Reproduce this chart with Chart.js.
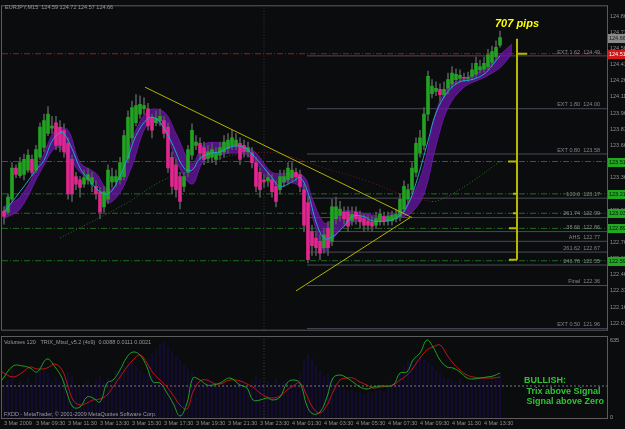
<!DOCTYPE html>
<html>
<head>
<meta charset="utf-8">
<script src="https://cdn.jsdelivr.net/npm/chart.js@4/dist/chart.umd.min.js"></script>
<style>
  html, body { margin: 0; padding: 0; background: #0b0c0e; }
  #wrap { position: relative; width: 625px; height: 429px; overflow: hidden; }
  canvas { position: absolute; left: 0; }
  #main { top: 0; }
  #sub { top: 334px; }
</style>
</head>
<body>
<div id="wrap">
  <canvas id="main" width="625" height="336"></canvas>
  <canvas id="sub" width="625" height="95"></canvas>
</div>
<script>
(function () {
    "use strict";

    // ---- EURJPY M15 bars, 3 Mar 2009 07:30 onwards ----
    const barOpen = [123.05,123.04,123.16,123.45,123.38,123.39,123.43,123.53,123.43,123.55,
        123.64,123.77,123.82,123.87,123.83,123.80,123.68,123.53,123.37,123.34,
        123.30,123.34,123.30,123.28,123.23,123.09,123.16,123.32,123.32,123.34,
        123.37,123.54,123.73,123.87,123.95,124.00,124.00,123.92,123.87,123.89,
        123.89,123.83,123.55,123.48,123.37,123.28,123.41,123.57,123.66,123.68,
        123.64,123.54,123.55,123.53,123.57,123.60,123.63,123.66,123.66,123.68,
        123.66,123.60,123.59,123.50,123.41,123.34,123.33,123.34,123.28,123.25,
        123.32,123.34,123.36,123.41,123.39,123.25,123.13,122.86,122.80,122.77,
        122.71,122.89,122.77,122.98,123.01,123.04,123.04,122.96,123.04,123.00,
        122.98,122.96,122.95,122.92,122.96,123.00,122.96,122.96,122.98,123.00,
        123.07,123.16,123.25,123.41,123.59,123.66,123.95,124.14,124.16,124.18,
        124.13,124.19,124.23,124.27,124.28,124.29,124.28,124.30,124.32,124.36,
        124.37,124.39,124.43,124.48,124.59];
    const barHigh = [123.09,123.21,123.50,123.48,123.55,123.58,123.62,123.57,123.66,123.87,
        123.95,124.02,123.93,123.93,123.89,123.86,123.73,123.57,123.41,123.37,
        123.43,123.45,123.41,123.33,123.27,123.28,123.48,123.45,123.43,123.55,
        123.80,123.98,124.07,124.13,124.12,124.10,124.05,123.95,123.98,124.00,
        123.93,123.87,123.60,123.53,123.41,123.41,123.66,123.86,123.75,123.73,
        123.69,123.66,123.68,123.64,123.69,123.75,123.77,123.80,123.77,123.73,
        123.71,123.69,123.64,123.55,123.45,123.39,123.41,123.39,123.33,123.43,
        123.43,123.50,123.50,123.45,123.43,123.30,123.18,122.92,122.86,122.83,
        122.89,122.95,123.16,123.18,123.14,123.09,123.09,123.09,123.09,123.05,
        123.02,123.01,123.00,123.04,123.07,123.04,123.04,123.05,123.07,123.21,
        123.33,123.30,123.50,123.73,123.80,124.01,124.35,124.27,124.25,124.23,
        124.25,124.33,124.39,124.37,124.36,124.33,124.34,124.42,124.48,124.45,
        124.48,124.55,124.58,124.63,124.72];
    const barLow = [122.93,123.02,123.14,123.36,123.36,123.34,123.41,123.38,123.41,123.53,
        123.60,123.75,123.77,123.62,123.60,123.55,123.16,123.14,123.25,123.18,
        123.27,123.30,123.23,123.16,122.98,123.04,123.12,123.27,123.28,123.30,
        123.34,123.50,123.69,123.84,123.91,123.95,123.80,123.73,123.84,123.84,
        123.73,123.41,123.21,123.18,123.07,123.23,123.37,123.53,123.62,123.53,
        123.48,123.50,123.50,123.48,123.53,123.55,123.59,123.62,123.62,123.48,
        123.55,123.55,123.45,123.23,123.18,123.27,123.28,123.18,123.09,123.21,
        123.28,123.30,123.33,123.33,123.23,122.86,122.57,122.64,122.64,122.60,
        122.66,122.64,122.73,122.93,122.96,122.93,122.86,122.92,122.93,122.89,
        122.86,122.87,122.86,122.89,122.92,122.92,122.92,122.92,122.95,122.96,
        123.04,123.12,123.21,123.37,123.55,123.62,123.89,124.10,124.12,124.07,
        124.10,124.14,124.19,124.23,124.25,124.25,124.25,124.27,124.29,124.33,
        124.34,124.36,124.39,124.45,124.57];
    const barClose = [123.00,123.18,123.45,123.39,123.50,123.53,123.57,123.41,123.62,123.83,
        123.89,123.95,123.84,123.66,123.66,123.60,123.21,123.21,123.30,123.27,
        123.36,123.39,123.36,123.21,123.04,123.23,123.43,123.37,123.37,123.50,
        123.75,123.92,124.01,124.03,124.04,124.03,123.84,123.80,123.91,123.93,
        123.77,123.45,123.28,123.25,123.14,123.37,123.62,123.80,123.69,123.59,
        123.53,123.60,123.62,123.59,123.64,123.69,123.71,123.73,123.71,123.53,
        123.60,123.64,123.50,123.28,123.25,123.32,123.36,123.23,123.14,123.37,
        123.37,123.45,123.43,123.37,123.28,122.92,122.60,122.73,122.71,122.66,
        122.83,122.71,123.09,123.09,123.07,122.98,122.91,123.02,122.98,122.95,
        122.92,122.92,122.91,122.98,123.02,122.96,123.00,123.01,123.02,123.16,
        123.28,123.25,123.45,123.68,123.73,123.95,124.30,124.21,124.19,124.13,
        124.18,124.27,124.33,124.32,124.31,124.28,124.29,124.36,124.42,124.39,
        124.42,124.50,124.53,124.57,124.66];

    // smoothed average (cyan)
    const maIdx = [0,4,8,10,12,14,15,17,19,21,24,26,28,31,33,36,38,40,42,45,47,49,52,54,57,60,63,67,69,72,74,76,78,80,82,85,87,90,92,96,99,101,103,106,108,111,114,117,120,122,124];
    const maValues = [123.04,123.23,123.43,123.52,123.70,123.78,123.77,123.63,123.45,123.35,123.23,123.21,123.30,123.55,123.75,123.91,123.91,123.82,123.68,123.45,123.43,123.54,123.59,123.60,123.65,123.64,123.54,123.36,123.28,123.32,123.36,123.22,122.95,122.80,122.81,122.91,123.00,123.00,122.96,122.96,123.01,123.11,123.31,123.70,123.96,124.16,124.25,124.27,124.32,124.40,124.49];

    // purple band
    const bandIdx = [0,4,9,13,16,19,23,26,29,32,36,40,43,47,50,55,60,63,67,71,75,77,80,82,85,90,95,99,102,105,108,111,115,120,124,127];
    const bandUpper = [123.09,123.18,123.50,123.81,123.80,123.50,123.40,123.25,123.34,123.71,123.98,123.97,123.77,123.49,123.67,123.68,123.65,123.59,123.41,123.40,123.37,123.17,122.94,122.97,123.05,123.03,123.00,123.06,123.18,123.47,123.97,124.20,124.28,124.37,124.50,124.60];
    const bandLower = [122.98,123.07,123.41,123.64,123.56,123.41,123.31,123.13,123.22,123.47,123.86,123.83,123.52,123.30,123.52,123.58,123.58,123.50,123.30,123.32,123.25,123.01,122.67,122.78,122.91,122.97,122.96,122.99,123.04,123.21,123.66,124.01,124.20,124.29,124.38,124.51];

    // slow average (dotted, green rising / red falling)
    const slowIdx = [14,30,40,54,62,69,80,90,100,107,110,116,124];
    const slowValues = [122.80,123.11,123.34,123.54,123.59,123.58,123.45,123.34,123.20,123.14,123.17,123.30,123.51];

    // trend lines
    const trendUpperIdx = [35.25, 102];
    const trendUpperVal = [124.20, 122.99];
    const trendLowerIdx = [73, 101.5];
    const trendLowerVal = [122.31, 122.99];

    // levels
    const redLevel = 124.51;
    const greenLevels = [123.51, 123.21, 123.03, 122.89, 122.59];
    const fibStartIdx = 75.75;
    const fibLevels = [124.49, 124.00, 123.58, 123.17, 122.99, 122.86, 122.77, 122.67, 122.55, 122.36, 121.96];
    const fibNames = ['EXT 1.62', 'EXT 1.80', 'EXT 0.80', '100.0', '261.74', '38.66', 'AHS', '261.62', '246.76', 'Final', 'EXT 0.50'];
    const lastPrice = 124.66;

    // 707 pips ruler
    const rulerIdx = 128.25;
    const rulerTop = 124.65;
    const rulerBottom = 122.60;
    const rulerMarks = [124.51, 123.51, 123.21, 123.03, 122.89, 122.60];
    const rulerMarkFrom = [130.75, 126, 127.25, 127.25, 126.25, 126.25];
    const pipsLabel = '707 pips';

    const priceTicks = [124.86,124.71,124.56,124.41,124.26,124.11,123.96,123.81,123.66,123.51,
        123.36,123.21,123.06,122.91,122.76,122.61,122.46,122.31,122.16,122.01];
    const priceMin = 121.95, priceMax = 124.95;
    const idxMin = -0.5, idxMax = 150.75;
    const daySplitIdx = 65;
    const titleText = 'EURJPY,M15  124.59 124.72 124.57 124.66';

    // ---- lower panel: TRIX + volumes ----
    const timeLabels = ['3 Mar 2009','3 Mar 09:30','3 Mar 11:30','3 Mar 13:30','3 Mar 15:30','3 Mar 17:30','3 Mar 19:30','3 Mar 21:30',
        '3 Mar 23:30','4 Mar 01:30','4 Mar 03:30','4 Mar 05:30','4 Mar 07:30','4 Mar 09:30','4 Mar 11:30','4 Mar 13:30'];
    const trixIdx = [-0.5,2.25,4.75,6.5,8.25,10.75,12.75,14.5,15.75,17.25,
        19,20.75,22.25,24,25.75,27.25,29,30.75,32.25,34,
        35.75,37.25,39,40.75,42.25,44,45.75,47.25,49,50.75,
        52.25,54,56.5,59,60.75,62.25,64,65.75,67.25,69,
        70.75,72.25,74,75.75,77.25,79,80.75,82.25,84,85.75,
        87.25,89,90.75,92.25,94,97.25,99,100.75,102.25,104,
        105.75,107.25,109,110.75,112.25,114,115.75,117.25,119,120.75,
        122.25,124];
    const trixMain = [0.003,0.010,0.010,0.009,0.007,0.0135,0.0095,0.004,-0.0035,-0.0105,
        -0.0105,-0.0055,-0.006,-0.008,0.0015,0.003,0.008,0.0145,0.017,0.0155,
        0.0095,0.002,0.0015,-0.0035,-0.0085,-0.015,-0.0085,0.004,0.003,0.0005,
        0.0005,0.0015,0.004,0.0005,-0.001,-0.007,-0.007,-0.006,-0.007,-0.0055,
        0.0015,0.003,0.0015,-0.010,-0.014,-0.013,-0.0055,0.004,0.0055,0.004,
        0.002,-0.0005,-0.0015,-0.0005,0,0.0005,0.0065,0.007,0.013,0.0165,
        0.023,0.0195,0.013,0.0095,0.009,0.007,0.004,0.0035,0.004,0.0045,
        0.005,0.0065];
    const trixSignal = [0.007,0.0045,0.007,0.0095,0.0085,0.009,0.011,0.008,0.0015,-0.007,
        -0.0095,-0.0085,-0.007,-0.0065,-0.0045,-0.0005,0.0045,0.0095,0.013,0.0155,
        0.0115,0.0065,0.003,-0.0005,-0.0045,-0.0095,-0.0115,-0.003,0.0025,0.003,
        0.0015,0.001,0.003,0.0025,0.001,-0.0005,-0.0035,-0.0055,-0.006,-0.005,
        -0.002,0,0.0015,-0.005,-0.011,-0.0135,-0.0095,-0.003,0.003,0.004,
        0.004,0.002,0.0005,-0.001,-0.0005,0.0005,0.003,0.0055,0.009,0.014,
        0.018,0.0195,0.0205,0.0155,0.0115,0.008,0.0055,0.0045,0.004,0.004,
        0.004,0.0045];
    const volumes = [260,310,380,240,300,280,330,260,350,420,
        390,360,300,330,290,310,370,340,260,250,
        280,300,260,310,340,290,330,300,380,410,
        430,460,440,420,380,360,480,520,560,600,
        620,580,540,500,470,430,400,380,330,300,
        280,310,290,270,250,280,260,240,300,320,
        280,260,300,340,310,280,300,260,320,280,
        300,270,290,310,360,460,520,480,420,380,
        340,360,330,280,260,240,220,230,210,200,
        190,210,200,220,230,210,250,280,300,360,
        420,460,480,520,500,470,450,420,380,360,
        330,320,300,290,310,280,300,290,320,310,
        330,300,340,320,350];
    const trixMin = -0.016, trixMax = 0.0245, volMax = 660;
    const subTitle = 'Volumes 120   TRIX_Mtsd_v5.2 (4x9)  0.0088 0.0111 0.0021';
    const footer = 'FXDD - MetaTrader, \u00a9 2001-2009 MetaQuotes Software Corp.';
    const verdict = ['BULLISH:', ' Trix above Signal', ' Signal above Zero'];

    Chart.defaults.font.family = '"Liberation Sans", Arial, sans-serif';
    Chart.defaults.animation = false;

    function pts(xs, ys) { return xs.map((x, i) => ({x: x, y: ys[i]})); }

    function lineSet(data, color, extra) {
        return Object.assign({
            type: 'line', data: data, borderColor: color, borderWidth: 1,
            pointRadius: 0, fill: false, tension: 0
        }, extra || {});
    }

    function frame(ctx, a) {
        ctx.strokeStyle = '#5c5c5c';
        ctx.lineWidth = 1;
        ctx.strokeRect(a.left - 0.5, a.top - 0.5, a.right - a.left + 1, a.bottom - a.top + 1);
    }

    function tag(ctx, yPix, text, bg, fg) {
        ctx.fillStyle = bg;
        ctx.fillRect(608, Math.round(yPix) - 4, 17, 9);
        ctx.fillStyle = fg;
        ctx.textAlign = 'left';
        ctx.textBaseline = 'middle';
        ctx.fillText(text, 609, Math.round(yPix) + 0.5);
    }

    const mainOverlay = {
        id: 'mainOverlay',
        afterDraw(chart) {
            const ctx = chart.ctx, a = chart.chartArea, x = chart.scales.x, y = chart.scales.y;
            ctx.save();
            frame(ctx, a);

            ctx.font = '5.5px "Liberation Sans"';
            ctx.fillStyle = '#9a9a9a';
            ctx.textAlign = 'left';
            ctx.textBaseline = 'middle';
            ctx.fillText(titleText, 5, 7);

            // fibo labels
            ctx.fillStyle = '#858585';
            ctx.textAlign = 'right';
            ctx.textBaseline = 'bottom';
            fibLevels.forEach((v, k) => {
                ctx.fillText(fibNames[k] + '  ' + v.toFixed(2), x.getPixelForValue(149), y.getPixelForValue(v) - 1);
            });

            // price tags
            ctx.font = '5.5px "Liberation Sans"';
            tag(ctx, y.getPixelForValue(lastPrice), lastPrice.toFixed(2), '#8a8a8a', '#1a1a1a');
            tag(ctx, y.getPixelForValue(redLevel), redLevel.toFixed(2), '#d01818', '#ffffff');
            greenLevels.forEach(v => tag(ctx, y.getPixelForValue(v), v.toFixed(2), '#20a820', '#0b0c0e'));

            ctx.font = 'italic bold 11px "Liberation Sans"';
            ctx.fillStyle = '#ffff00';
            ctx.textAlign = 'center';
            ctx.textBaseline = 'middle';
            ctx.fillText(pipsLabel, x.getPixelForValue(rulerIdx), 24);
            ctx.restore();
        }
    };

    const subOverlay = {
        id: 'subOverlay',
        afterDraw(chart) {
            const ctx = chart.ctx, a = chart.chartArea;
            ctx.save();
            frame(ctx, a);
            ctx.font = '5.5px "Liberation Sans"';
            ctx.fillStyle = '#9a9a9a';
            ctx.textAlign = 'left';
            ctx.textBaseline = 'middle';
            ctx.fillText(subTitle, 4, a.top + 5);
            ctx.fillText(footer, 4, a.bottom - 4);
            ctx.fillText('635', 610, a.top + 3);
            ctx.fillText('0', 610, a.bottom - 1);

            ctx.font = 'bold 9px "Liberation Sans"';
            ctx.fillStyle = '#2fc42f';
            verdict.forEach((t, k) => ctx.fillText(t, 524, a.top + 44 + k * 10.5));
            ctx.restore();
        }
    };

    const bodyColors = barOpen.map((o, i) => barClose[i] >= o ? '#23a123' : '#e0278f');

    const mainDatasets = [
        // purple band (upper then lower filled to it)
        lineSet(pts(bandIdx, bandUpper), 'rgba(110, 24, 170, 0.9)', {order: 12, tension: 0.35}),
        lineSet(pts(bandIdx, bandLower), 'rgba(110, 24, 170, 0.9)', {order: 12, tension: 0.35, fill: '-1', backgroundColor: 'rgba(108, 22, 172, 0.72)'}),
        // fibo levels
        ...fibLevels.map(v => lineSet(pts([fibStartIdx, idxMax], [v, v]), '#4a4a58', {order: 22})),
        // dash-dot levels
        ...greenLevels.map(v => lineSet(pts([idxMin, idxMax], [v, v]), '#1f6e1f', {order: 21, borderDash: [6, 2, 1, 2]})),
        lineSet(pts([idxMin, idxMax], [redLevel, redLevel]), '#a81414', {order: 20, borderDash: [6, 2, 1, 2]}),
        // day separator
        lineSet(pts([daySplitIdx, daySplitIdx], [priceMin, priceMax]), '#3c3c3c', {order: 23, borderDash: [1, 2]}),
        // slow average
        lineSet(pts(slowIdx, slowValues), '#1d7a1d', {order: 15, tension: 0.4, borderDash: [1, 2],
            segment: {borderColor: c => c.p1.parsed.y >= c.p0.parsed.y ? '#1f7a1f' : '#7a1414'}}),
        // candles
        {type: 'bar', data: barLow.map((l, i) => ({x: i, y: [l, barHigh[i]]})), backgroundColor: '#555555',
            barThickness: 1, grouped: false, order: 8},
        {type: 'bar', data: barOpen.map((o, i) => ({x: i, y: [o, barClose[i]]})), backgroundColor: bodyColors,
            barThickness: 3, minBarLength: 1, grouped: false, order: 7},
        // cyan average
        lineSet(pts(maIdx, maValues), '#1fa8c8', {order: 3, tension: 0.4}),
        // trend lines
        lineSet(pts(trendUpperIdx, trendUpperVal), '#b4b400', {order: 2}),
        lineSet(pts(trendLowerIdx, trendLowerVal), '#b4b400', {order: 2}),
        // ruler
        lineSet(pts([rulerIdx, rulerIdx], [rulerTop, rulerBottom]), '#b8b800', {order: 1, borderWidth: 2}),
        ...rulerMarks.map((v, k) => lineSet(pts([rulerMarkFrom[k], rulerIdx], [v, v]), '#b8b800', {order: 1, borderWidth: 2}))
    ];

    new Chart(document.getElementById('main'), {
        type: 'bar',
        data: {datasets: mainDatasets},
        options: {
            responsive: false,
            devicePixelRatio: 1,
            events: [],
            layout: {padding: {left: 2, top: 3, right: 0, bottom: 3}},
            plugins: {legend: {display: false}, tooltip: {enabled: false}},
            scales: {
                x: {type: 'linear', min: idxMin, max: idxMax, offset: false, display: false},
                y: {
                    type: 'linear', position: 'right', min: priceMin, max: priceMax,
                    afterBuildTicks: s => { s.ticks = priceTicks.map(v => ({value: v})); },
                    afterFit: s => { s.width = 18; },
                    grid: {display: false, drawTicks: false},
                    border: {display: false},
                    ticks: {autoSkip: false, padding: 3, color: '#8e8e8e', font: {size: 5.5},
                        callback: v => Number(v).toFixed(2)}
                }
            }
        },
        plugins: [mainOverlay]
    });

    new Chart(document.getElementById('sub'), {
        type: 'bar',
        data: {
            datasets: [
                {type: 'bar', yAxisID: 'yv', data: volumes.map((v, i) => ({x: i, y: v})), backgroundColor: '#170b3a',
                    barThickness: 1, grouped: false, order: 10},
                lineSet(pts([idxMin, idxMax], [0, 0]), '#7a7a7a', {order: 9, borderDash: [2, 2]}),
                lineSet(pts([daySplitIdx, daySplitIdx], [trixMin, trixMax]), '#3c3c3c', {order: 9, borderDash: [1, 2]}),
                lineSet(pts(trixIdx, trixSignal), '#c41616', {order: 2, tension: 0.4}),
                lineSet(pts(trixIdx, trixMain), '#1fa21f', {order: 1, tension: 0.4})
            ]
        },
        options: {
            responsive: false,
            devicePixelRatio: 1,
            events: [],
            layout: {padding: {left: 2, top: 3, right: 0, bottom: 0}},
            plugins: {legend: {display: false}, tooltip: {enabled: false}},
            scales: {
                x: {
                    type: 'linear', min: idxMin, max: idxMax, offset: false,
                    afterBuildTicks: s => { s.ticks = timeLabels.map((t, k) => ({value: k * 8})); },
                    afterFit: s => { s.height = 11; },
                    grid: {display: false, drawTicks: false},
                    border: {display: false},
                    ticks: {autoSkip: false, maxRotation: 0, align: 'start', padding: 2, color: '#8e8e8e',
                        font: {size: 5.5}, callback: (v, k) => timeLabels[k]}
                },
                y: {
                    type: 'linear', position: 'right', min: trixMin, max: trixMax,
                    afterFit: s => { s.width = 18; },
                    grid: {display: false, drawTicks: false},
                    border: {display: false},
                    ticks: {display: false}
                },
                yv: {type: 'linear', display: false, min: 0, max: volMax}
            }
        },
        plugins: [subOverlay]
    });
})();
</script>
</body>
</html>
